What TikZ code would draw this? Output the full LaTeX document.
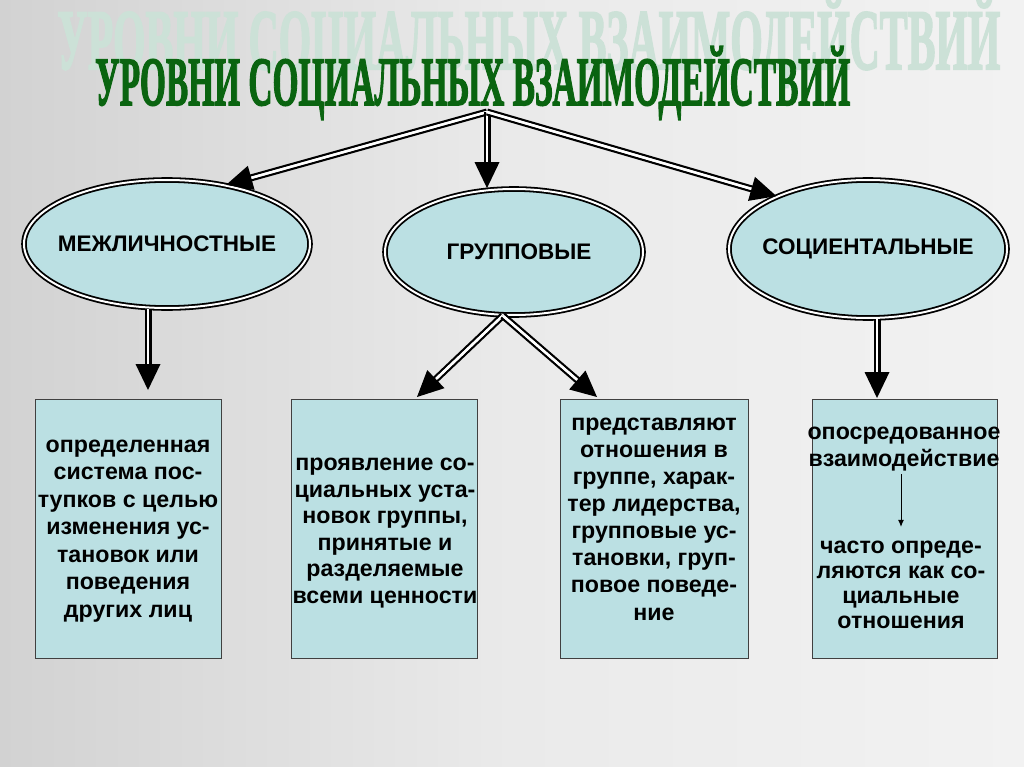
\documentclass[tikz,border=0pt]{standalone}
\usepackage{fontspec}
\usepackage{graphicx}
\setmainfont{Liberation Sans}
\newfontfamily\titlefont{Liberation Serif}[BoldFeatures={FakeBold=2.5}]
\usetikzlibrary{shapes.geometric,arrows.meta}
\definecolor{cfill}{RGB}{187,224,227}
\definecolor{bgL}{RGB}{210,210,210}
\definecolor{bgM}{RGB}{234,234,234}
\definecolor{bgR}{RGB}{242,242,242}
\definecolor{ttl}{RGB}{10,100,16}
\definecolor{ttlshadow}{RGB}{204,225,215}
\tikzset{
  ell/.style={ellipse, fill=cfill, draw=black, double=white, line width=1.8pt,
    double distance=2pt, inner sep=0pt, font=\bfseries\fontsize{22.5}{25}\selectfont},
  boxnode/.style={draw=black!75, fill=cfill, line width=0.8pt, minimum width=186pt,
    minimum height=259pt, inner sep=0pt},
  boxtext/.style={align=center, inner sep=0pt, font=\bfseries\fontsize{23.2}{27.5}\selectfont},
  shaft/.style={draw=black, double=white, line width=2.3pt, double distance=2.4pt, shorten >=20pt},
  tiphead/.style={draw=white, line width=2.4pt, -{Triangle[length=26pt,width=25pt,color=black,line width=0pt]}},
}
\begin{document}
\begin{tikzpicture}[x=1pt,y=-1pt]
\useasboundingbox (0,0) rectangle (1024,767);
\shade[left color=bgL, right color=bgR, middle color=bgM] (0,0) rectangle (1024,767);

% titles
\node[anchor=base west, inner sep=0pt, text=ttlshadow] (shadowtitle) at (57,69)
  {\resizebox{943pt}{\height}{\titlefont\bfseries\fontsize{86}{86}\selectfont УРОВНИ СОЦИАЛЬНЫХ ВЗАИМОДЕЙСТВИЙ}};
\node[anchor=base west, inner sep=0pt, text=ttl] (title) at (95,105)
  {\resizebox{755pt}{\height}{\titlefont\bfseries\fontsize{69}{69}\selectfont УРОВНИ СОЦИАЛЬНЫХ ВЗАИМОДЕЙСТВИЙ}};

\coordinate (T) at (487,112);

% ellipses
\node[ell, minimum width=286pt, minimum height=128pt] (e1) at (167,244) {\makebox[0pt]{МЕЖЛИЧНОСТНЫЕ}};
\node[ell, minimum width=258pt, minimum height=126pt] (e2) at (514,252) {\makebox[0pt]{\raisebox{-6pt}{\hspace*{10pt}ГРУППОВЫЕ}}};
\node[ell, minimum width=278pt, minimum height=138pt] (e3) at (868,249) {\makebox[0pt]{СОЦИЕНТАЛЬНЫЕ}};

% boxes
\node[boxnode] (b1) at (128,529) {};
\node[boxnode] (b2) at (384.5,529) {};
\node[boxnode, minimum width=188pt] (b3) at (654,529) {};
\node[boxnode, minimum width=185pt] (b4) at (904.5,529) {};

\node[boxtext] (t1) at (128,531) {определенная\\система пос-\\тупков с целью\\изменения ус-\\тановок или\\поведения\\других лиц};
\node[boxtext, font=\bfseries\fontsize{23.2}{26.6}\selectfont] (t2) at (385,533) {проявление со-\\циальных уста-\\новок группы,\\принятые и\\разделяемые\\всеми ценности};
\node[boxtext, font=\bfseries\fontsize{23.2}{27.1}\selectfont] (t3) at (654,519) {представляют\\отношения в\\группе, харак-\\тер лидерства,\\групповые ус-\\тановки, груп-\\повое поведе-\\ние};
\node[boxtext, font=\bfseries\fontsize{23.2}{27}\selectfont] (t4a) at (904,449) {опосредованное\\взаимодействие};
\node[boxtext, font=\bfseries\fontsize{23.2}{25}\selectfont] (t4b) at (901,585) {часто опреде-\\ляются как со-\\циальные\\отношения};
\draw[line width=1pt, shorten <=3pt, shorten >=14pt, -{Latex[length=7pt,width=6pt]}] (t4a.south -| 901,0) -- (t4b.north -| 901,0);

% arrow end coordinates
\coordinate (a1) at (148,390);
\coordinate (c2) at (417,397);
\coordinate (c3) at (597,397);
\coordinate (a4) at (877,398);

% top arrows
\draw[shaft] (T) -- (e1.45);
\draw[tiphead] (T) -- (e1.45);
\draw[shaft] (T) -- (T |- e2.north);
\draw[tiphead] (T) -- (T |- e2.north);
\draw[shaft] (T) -- (e3.150);
\draw[tiphead] (T) -- (e3.150);

% lower arrows
\draw[shaft] (e1.south -| a1) -- (a1);
\draw[tiphead] (e1.south -| a1) -- (a1);
\draw[shaft] (e2.260) -- (c2);
\draw[tiphead] (e2.260) -- (c2);
\draw[shaft] (e2.260) -- (c3);
\draw[tiphead] (e2.260) -- (c3);
\draw[shaft] (e3.south -| a4) -- (a4);
\draw[tiphead] (e3.south -| a4) -- (a4);
\end{tikzpicture}
\end{document}
